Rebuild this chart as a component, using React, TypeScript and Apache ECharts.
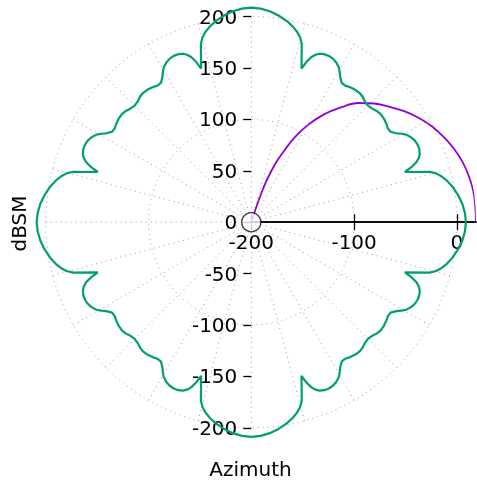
import React, { useEffect, useRef } from "react";
import * as echarts from "echarts";

// Green trace: azimuth (deg) and RCS (dBSM)
const greenAngle = [
  0, 2.5, 5, 7.5, 10, 12, 13.5, 14.8, 15.8, 18.1, 19, 20, 21, 22, 23.5, 25, 26.5, 28, 29.5, 30.5, 31.5, 33, 34.5, 36, 38, 40, 41.5, 43, 45,
  47, 48.5, 50, 52, 54, 55.5, 57, 58.5, 59.5, 60.5, 62, 63.5, 65, 66.5, 68, 69, 70, 71, 71.9, 74.2, 75.2, 76.5, 78, 80, 82.5, 85, 87.5, 90,
  92.5, 95, 97.5, 100, 102, 103.5, 104.8, 105.8, 108.1, 109, 110, 111, 112, 113.5, 115, 116.5, 118, 119.5, 120.5, 121.5, 123, 124.5, 126, 128, 130, 131.5, 133, 135,
  137, 138.5, 140, 142, 144, 145.5, 147, 148.5, 149.5, 150.5, 152, 153.5, 155, 156.5, 158, 159, 160, 161, 161.9, 164.2, 165.2, 166.5, 168, 170, 172.5, 175, 177.5, 180,
  182.5, 185, 187.5, 190, 192, 193.5, 194.8, 195.8, 198.1, 199, 200, 201, 202, 203.5, 205, 206.5, 208, 209.5, 210.5, 211.5, 213, 214.5, 216, 218, 220, 221.5, 223, 225,
  227, 228.5, 230, 232, 234, 235.5, 237, 238.5, 239.5, 240.5, 242, 243.5, 245, 246.5, 248, 249, 250, 251, 251.9, 254.2, 255.2, 256.5, 258, 260, 262.5, 265, 267.5, 270,
  272.5, 275, 277.5, 280, 282, 283.5, 284.8, 285.8, 288.1, 289, 290, 291, 292, 293.5, 295, 296.5, 298, 299.5, 300.5, 301.5, 303, 304.5, 306, 308, 310, 311.5, 313, 315,
  317, 318.5, 320, 322, 324, 325.5, 327, 328.5, 329.5, 330.5, 332, 333.5, 335, 336.5, 338, 339, 340, 341, 341.9, 344.2, 345.2, 346.5, 348, 350, 352.5, 355, 357.5, 360,
];
const greenDb = [
  8.8, 8, 6, 2.8, -1.3, -5.5, -9.5, -14, -19.8, -42.8, -35, -29, -25.5, -23.3, -21.8, -21.5, -22.2, -24, -27, -30.5, -34.5, -38.5, -38.8, -37.5, -36.3, -36, -36.8, -38.5, -39.5,
  -38.5, -36.8, -36, -36.3, -37.5, -38.8, -38.5, -34.5, -30.5, -27, -24, -22.2, -21.5, -21.8, -23.3, -25.5, -29, -35, -42.8, -19.8, -14, -9.5, -5.5, -1.3, 2.8, 6, 8, 8.8,
  8, 6, 2.8, -1.3, -5.5, -9.5, -14, -19.8, -42.8, -35, -29, -25.5, -23.3, -21.8, -21.5, -22.2, -24, -27, -30.5, -34.5, -38.5, -38.8, -37.5, -36.3, -36, -36.8, -38.5, -39.5,
  -38.5, -36.8, -36, -36.3, -37.5, -38.8, -38.5, -34.5, -30.5, -27, -24, -22.2, -21.5, -21.8, -23.3, -25.5, -29, -35, -42.8, -19.8, -14, -9.5, -5.5, -1.3, 2.8, 6, 8, 8.8,
  8, 6, 2.8, -1.3, -5.5, -9.5, -14, -19.8, -42.8, -35, -29, -25.5, -23.3, -21.8, -21.5, -22.2, -24, -27, -30.5, -34.5, -38.5, -38.8, -37.5, -36.3, -36, -36.8, -38.5, -39.5,
  -38.5, -36.8, -36, -36.3, -37.5, -38.8, -38.5, -34.5, -30.5, -27, -24, -22.2, -21.5, -21.8, -23.3, -25.5, -29, -35, -42.8, -19.8, -14, -9.5, -5.5, -1.3, 2.8, 6, 8, 8.8,
  8, 6, 2.8, -1.3, -5.5, -9.5, -14, -19.8, -42.8, -35, -29, -25.5, -23.3, -21.8, -21.5, -22.2, -24, -27, -30.5, -34.5, -38.5, -38.8, -37.5, -36.3, -36, -36.8, -38.5, -39.5,
  -38.5, -36.8, -36, -36.3, -37.5, -38.8, -38.5, -34.5, -30.5, -27, -24, -22.2, -21.5, -21.8, -23.3, -25.5, -29, -35, -42.8, -19.8, -14, -9.5, -5.5, -1.3, 2.8, 6, 8, 8.8,
];

// Purple trace: azimuth (deg) and dBSM
const purpleAngle = [0, 4, 8, 12, 16, 20, 24, 28, 32, 36, 40, 44, 48, 52, 56, 60, 63, 66, 68, 70, 71, 72, 72.5];
const purpleDb = [18.5, 18.4, 18.1, 16.3, 13.6, 9.6, 4.5, -1.2, -8.2, -16.2, -25.2, -33.8, -44, -58.3, -73.5, -91.5, -108, -128, -141, -158, -172, -188, -200];

const radialTicks = [-200, -100, 0];
const yMin = -200;
const yMax = 200;
const yStep = 50;
const rMin = -200;
const rMax = 18.6;
const rGridMax = 0;

const CX = 251.3;
const CY = 222.2;
const S = 1.028;

export default function App() {
  const ref = useRef<HTMLDivElement>(null);
  useEffect(() => {
    const chart = echarts.init(ref.current!, null, { renderer: "svg" });
    const font = { fontFamily: "DejaVu Sans", fontSize: 20, color: "#000" };
    const dotted = { color: "#9a9a9a", width: 1, type: [1, 4] as any };
    const W = (rMax - rMin) * S;
    const hiddenX = (gi: number) => ({ gridIndex: gi, type: "value", min: rMin, max: rMax, show: false });
    const hiddenY = (gi: number) => ({ gridIndex: gi, type: "value", min: 0, max: 1, show: false });
    chart.setOption({
      animation: false,
      polar: [
        { center: [CX, CY], radius: W },
        { center: [CX, CY], radius: (rGridMax - rMin) * S },
      ],
      angleAxis: [
        { polarIndex: 0, type: "value", min: 0, max: 360, startAngle: 0, clockwise: false, show: false },
        {
          polarIndex: 1, type: "value", min: 0, max: 360, interval: 15, startAngle: 0, clockwise: false,
          axisLine: { show: false }, axisTick: { show: false }, axisLabel: { show: false },
          splitLine: { show: true, lineStyle: dotted },
        },
      ],
      radiusAxis: [
        { polarIndex: 0, type: "value", min: rMin, max: rMax, show: false },
        {
          polarIndex: 1, type: "value", min: rMin, max: rGridMax, interval: 100,
          axisLine: { show: false }, axisTick: { show: false }, axisLabel: { show: false },
          splitLine: { show: true, lineStyle: dotted },
        },
      ],
      grid: [
        { left: CX, top: CY - 200 * S, width: W, height: 400 * S, containLabel: false, outerBoundsMode: "none" },
        { left: CX, top: CY - 40, width: W, height: 40, containLabel: false, outerBoundsMode: "none" },
        { left: CX, top: CY, width: W, height: 40, containLabel: false, outerBoundsMode: "none" },
      ],
      xAxis: [
        hiddenX(0),
        {
          gridIndex: 1, type: "value", min: rMin, max: rMax, interval: 100, position: "bottom",
          axisLine: { show: true, onZero: false, lineStyle: { color: "#000", width: 1.6 } },
          axisTick: { show: true, customValues: radialTicks, length: 8, lineStyle: { color: "#000", width: 1.3 } },
          axisLabel: { customValues: radialTicks, margin: 11, lineHeight: 18, ...font },
          splitLine: { show: false },
        },
        {
          gridIndex: 2, type: "value", min: rMin, max: rMax, interval: 100, position: "top",
          axisLine: { show: true, onZero: false, lineStyle: { color: "#000", width: 1.6 } },
          axisTick: { show: true, customValues: radialTicks, length: 8, lineStyle: { color: "#000", width: 1.3 } },
          axisLabel: { show: false },
          splitLine: { show: false },
        },
      ],
      yAxis: [
        {
          gridIndex: 0, type: "value", min: yMin, max: yMax, interval: yStep, position: "left",
          axisLine: { show: false, onZero: false },
          axisTick: { show: true, length: 8, lineStyle: { color: "#000", width: 1.3 } },
          axisLabel: { margin: 14, lineHeight: 18, ...font },
          splitLine: { show: false },
        },
        hiddenY(1),
        hiddenY(2),
      ],
      graphic: [
        {
          type: "text", x: 250.5, y: 469,
          style: { text: "Azimuth", fontFamily: "DejaVu Sans", fontSize: 20, fill: "#000", align: "center", verticalAlign: "middle" },
        },
        {
          type: "text", x: 18.5, y: 223.5, rotation: Math.PI / 2,
          style: { text: "dBSM", fontFamily: "DejaVu Sans", fontSize: 20, fill: "#000", align: "center", verticalAlign: "middle" },
        },
      ],
      series: [
        {
          type: "line", coordinateSystem: "polar", polarIndex: 0, showSymbol: false, symbol: "none", z: 3, smooth: 0.4,
          lineStyle: { color: "#9400d3", width: 1.8 },
          data: purpleDb.map((r, i) => [r, purpleAngle[i]]),
        },
        {
          type: "line", coordinateSystem: "polar", polarIndex: 0, showSymbol: false, symbol: "none", z: 4,
          lineStyle: { color: "#009e73", width: 2.2 },
          data: greenDb.map((r, i) => [r, greenAngle[i]]),
        },
        {
          type: "scatter", coordinateSystem: "polar", polarIndex: 0, symbol: "circle", symbolSize: 19, z: 10, silent: true,
          itemStyle: { color: "#fff", borderColor: "#000", borderWidth: 1.3 },
          data: [[rMin, 0]],
        },
      ],
    });
    return () => chart.dispose();
  }, []);
  return <div ref={ref} style={{ position: "fixed", left: 0, top: 0, width: 477, height: 482 }} />;
}
